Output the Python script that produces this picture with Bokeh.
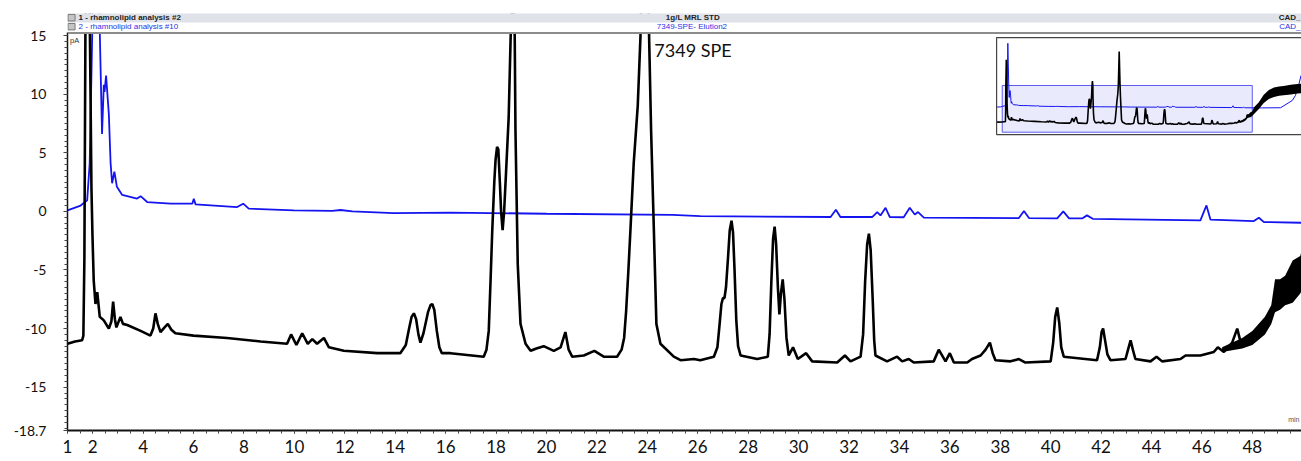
import numpy as np
from bokeh.plotting import figure
from bokeh.models import Range1d, FixedTicker, Span
from bokeh.core.properties import value
from bokeh.embed import file_html
from bokeh.resources import INLINE

# ---------------- data ----------------
x_ticks = [1, 2, 4, 6, 8, 10, 12, 14, 16, 18, 20, 22, 24, 26, 28, 30, 32, 34, 36, 38, 40, 42, 44, 46, 48]
y_ticks = [-18.7, -15, -10, -5, 0, 5, 10, 15]
y_tick_labels = ["-18.7", "-15", "-10", "-5", "0", "5", "10", "15"]

series_names = ["1 - rhamnolipid analysis #2", "2 - rhamnolipid analysis #10"]
sample_names = ["1g/L MRL STD", "7349-SPE- Elution2"]
detector_names = ["CAD_", "CAD_"]
annotation_text = "7349 SPE"

# trace 1 (black) : retention time [min], signal [pA]
black_t = [0.0, 1.0, 1.3, 1.58, 1.63, 1.67, 1.71, 1.80, 1.89, 1.95, 1.99, 2.04, 2.11, 2.18, 2.28, 2.44,
           2.64, 2.74, 2.81, 2.88, 2.94, 3.10, 3.20, 3.37, 3.9, 4.29, 4.40, 4.49, 4.58, 4.69, 4.85, 4.98,
           5.12, 5.28, 6.0, 7.33, 8.66, 9.71, 9.87, 10.08, 10.31, 10.53, 10.71, 10.9, 11.17, 11.37, 11.96,
           13.29, 14.2, 14.42, 14.55, 14.65, 14.74, 14.83, 14.92, 15.0, 15.12, 15.3, 15.4, 15.47, 15.55,
           15.65, 15.75, 15.85, 16.19, 17.51,
           17.62, 17.71, 17.78, 17.85, 17.93, 17.98, 18.04, 18.09, 18.15, 18.2, 18.26, 18.32, 18.4, 18.50,
           18.58, 18.66, 18.74, 18.77, 18.86,
           18.97, 19.17, 19.37, 19.60, 19.89, 20.29, 20.56, 20.75, 20.88, 21.02, 21.48, 21.9, 22.27, 22.8,
           22.98, 23.08, 23.16, 23.25, 23.33, 23.46, 23.62, 23.73, 23.90, 24.07, 24.15, 24.26, 24.36, 24.52,
           25.05, 25.32, 25.85, 26.1, 26.64, 26.78, 26.86, 26.94, 27.0, 27.06, 27.12, 27.2, 27.27, 27.34,
           27.40, 27.46, 27.53, 27.60, 27.70, 28.36, 28.78, 28.85, 28.92, 28.99, 29.05, 29.11, 29.18, 29.24,
           29.30, 29.37, 29.44, 29.52, 29.61, 29.78, 29.97, 30.3, 30.54, 31.53, 31.84, 32.06, 32.46,
           32.56, 32.64, 32.72, 32.79, 32.86, 32.94, 33.0, 33.05, 33.51, 33.91, 34.11, 34.37, 34.57, 35.36,
           35.56, 35.83, 36.0, 36.16, 36.69, 36.88, 37.22, 37.42, 37.59, 37.70, 37.81, 38.41, 38.74, 39.0,
           40.0, 40.1, 40.18, 40.26, 40.34, 40.42, 40.52, 41.84, 41.95, 42.02, 42.08, 42.15, 42.25, 42.37,
           42.97, 43.07, 43.17, 43.26, 43.36, 43.96, 44.2, 44.42, 45.15, 45.35, 45.94, 46.47, 46.63, 46.87,
           47.2, 47.4, 47.54, 48.06, 48.59, 48.86, 48.97, 49.25, 49.65,
           49.9, 50.3, 51.2, 52.2, 53.2, 54.2, 55.2, 56.1, 57.5, 58.75, 59.6]
black_v = [-11.4, -11.3, -11.1, -11.0, -10.6, -4.0, 15.0, 34.0, 15.0, 2.0, -2.0, -5.9, -7.9, -6.9, -9.0, -9.3,
           -10.0, -9.4, -7.7, -9.2, -9.9, -9.0, -9.6, -9.7, -10.2, -10.6, -10.0, -8.7, -9.6, -10.3, -9.9, -9.6,
           -10.1, -10.4, -10.6, -10.8, -11.1, -11.3, -10.5, -11.4, -10.4, -11.3, -10.9, -11.3, -10.8, -11.6, -11.9,
           -12.1, -12.1, -11.4, -10.0, -9.0, -8.7, -9.2, -10.5, -11.2, -10.4, -8.6, -8.0, -7.9, -8.4,
           -10.2, -11.6, -12.1, -12.1, -12.4,
           -11.8, -10.2, -6.0, -1.6, 2.5, 4.4, 5.5, 5.3, 2.5, 0.0, -1.6, 0.0, 3.5, 8.0,
           15.0, 18.6, 15.0, 6.9, -4.5,
           -9.6, -11.3, -11.9, -11.7, -11.5, -11.9, -11.6, -10.3, -11.8, -12.4, -12.3, -11.9, -12.4, -12.4,
           -11.8, -10.8, -8.5, -5.0, -1.6, 4.1, 9.0, 15.0, 40.0, 15.0, 6.9, -1.6, -9.6, -11.3,
           -12.4, -12.7, -12.6, -12.7, -12.4, -11.6, -9.8, -7.9, -7.4, -7.4, -6.5, -4.0, -1.6, -0.8,
           -1.8, -5.0, -9.3, -11.5, -12.3, -12.6, -12.4, -10.5, -6.0, -2.3, -1.3, -2.8, -6.5, -8.8,
           -7.0, -5.8, -7.5, -10.8, -12.3, -11.6, -12.6, -12.1, -12.8, -12.9, -12.3, -12.8, -12.4,
           -10.5, -6.0, -2.8, -1.9, -3.3, -7.5, -11.0, -12.3, -12.8, -12.4, -12.8, -12.6, -12.9, -12.8,
           -11.8, -12.8, -12.1, -12.9, -12.9, -12.6, -12.3, -11.8, -11.2, -12.1, -12.7, -12.8, -12.6, -12.9,
           -12.8, -11.2, -9.0, -8.2, -9.5, -11.6, -12.4, -12.7, -11.6, -10.3, -10.0, -10.9, -12.2, -12.7,
           -12.6, -11.8, -11.0, -11.8, -12.6, -12.8, -12.4, -12.8, -12.6, -12.3, -12.3, -12.0, -11.6, -12.0,
           -11.2, -10.0, -11.2, -10.4, -9.3, -8.2, -6.2, -6.7, -5.3,
           -5.0, -3.0, 0.5, 5.5, 8.8, 10.4, 11.2, 11.6, 12.3, 12.9, 13.1]

# noise envelope of trace 1 at the end of the gradient
black_band_t = [46.8, 47.6, 48.0, 48.5, 48.75, 48.9, 49.1, 49.3, 49.6, 49.9, 50.3, 51.2, 52.2, 53.2, 54.2,
                55.2, 56.1, 57.5, 58.75, 59.6]
black_band_lo = [-12.0, -11.7, -11.4, -10.5, -9.6, -8.6, -8.4, -8.0, -7.8, -7.0, -5.5, -2.0, 2.5, 5.5, 7.0,
                 7.8, 8.2, 8.8, 9.4, 9.6]
black_band_hi = [-11.6, -10.8, -10.2, -9.0, -8.0, -5.8, -5.8, -5.5, -4.2, -3.8, -0.5, 3.0, 8.5, 12.0, 13.8,
                 14.6, 15.0, 15.8, 16.4, 16.6]

# trace 2 (blue)
blue_t = [0.0, 0.67, 1.0, 1.52, 1.78, 1.88, 1.98, 2.10, 2.28, 2.37, 2.44, 2.47, 2.53, 2.64, 2.71, 2.77, 2.86,
          2.96, 3.17, 3.76, 3.9, 4.16, 5.09, 5.95, 6.01, 6.08, 7.73, 7.97, 8.19, 9.98, 11.5, 11.83, 12.3,
          13.94, 16.19, 20.0, 25.0, 26.1, 31.27, 31.48, 31.66, 32.92, 33.12, 33.25, 33.45, 33.62, 34.17,
          34.41, 34.61, 34.74, 34.97, 38.74, 38.94, 39.14, 40.26, 40.5, 40.73, 41.25, 41.44, 41.67, 45.94,
          46.18, 46.34, 48.06, 48.26, 48.46, 49.92, 52.0, 55.5, 57.8, 58.4, 59.1, 59.5]
blue_v = [-0.4, -0.3, 0.09, 0.5, 0.94, 4.1, 15.0, 46.0, 15.4, 6.6, 10.8, 10.2, 11.6, 8.3, 4.1, 2.4, 3.4,
          2.1, 1.4, 1.1, 1.3, 0.8, 0.66, 0.66, 1.08, 0.6, 0.37, 0.66, 0.23, 0.09, 0.05, 0.12, 0.0,
          -0.14, -0.1, -0.2, -0.3, -0.4, -0.48, 0.14, -0.48, -0.48, -0.06, -0.34, 0.31, -0.48, -0.5,
          0.31, -0.26, -0.06, -0.54, -0.57, 0.03, -0.57, -0.6, 0.0, -0.6, -0.6, -0.34, -0.63, -0.77,
          0.51, -0.71, -0.83, -0.54, -0.91, -0.97, -1.0, -0.9, 4.4, 8.0, 16.5, 22.6]

# displayed window of the overview (inset) rectangle
view_t = [1.0, 49.95]
view_v = [-18.7, 15.3]

# ---------------- figure ----------------
BLACK = "#000000"
BLUE = "#1414f0"
FONT = "Lato"
HDR = "Liberation Sans"

x0, x1 = 1.0, 49.95
y0, y1 = -18.7, 16.89

p = figure(width=1301, height=461, output_backend="svg", toolbar_location=None,
           x_range=Range1d(x0, x1), y_range=Range1d(y0, y1),
           min_border_left=67, min_border_right=0, min_border_top=13, min_border_bottom=31)
p.outline_line_color = None
p.background_fill_color = "white"
p.border_fill_color = "white"
p.xgrid.visible = False
p.ygrid.visible = False

# inset (overview) ranges mapped onto a sub-region of the frame
p.extra_x_ranges = {"ix": Range1d(-181.99, 59.59)}
p.extra_y_ranges = {"iy": Range1d(-235.8, 67.69)}

# axes
xa = p.xaxis[0]
xa.ticker = FixedTicker(ticks=x_ticks, minor_ticks=list(np.arange(1.0, 50.0, 0.5)))
xa.major_label_text_font = FONT
xa.major_label_text_font_size = "17px"
xa.major_label_text_color = "#111111"
xa.major_tick_out = 3
xa.major_tick_in = 0
xa.minor_tick_out = 3
xa.minor_tick_in = 0
xa.major_label_standoff = 6
xa.axis_line_width = 2
xa.axis_line_color = "#111111"
xa.major_tick_line_color = "#444444"
xa.minor_tick_line_color = "#444444"

ya = p.yaxis[0]
ya.ticker = FixedTicker(ticks=y_ticks, minor_ticks=list(np.arange(-18.5, 15.01, 0.5)))
ya.major_label_overrides = {t: s for t, s in zip(y_ticks, y_tick_labels)}
ya.bounds = (-18.7, 15.25)
ya.major_label_text_font = FONT
ya.major_label_text_font_size = "14px"
ya.major_label_text_color = "#111111"
ya.major_tick_out = 4
ya.major_tick_in = 0
ya.minor_tick_out = 3
ya.minor_tick_in = 0
ya.major_label_standoff = 17
ya.axis_line_color = "#111111"
ya.axis_line_width = 1.5
ya.major_tick_line_color = "#444444"
ya.minor_tick_line_color = "#444444"

# ---- main traces ----
p.line(blue_t, blue_v, line_color=BLUE, line_width=1.8)
p.varea(x=black_band_t, y1=black_band_lo, y2=black_band_hi, fill_color=BLACK)
p.line(black_t, black_v, line_color=BLACK, line_width=2.6)

# ---- header (covers the clipped peak tops) ----
p.quad(left=[0.9], right=[62], top=[17.5], bottom=[15.23], fill_color="white", line_color=None)
p.quad(left=[0.9], right=[62], top=[16.93], bottom=[16.13], fill_color="#dfe2e9", line_color=None)
p.quad(left=[1.02, 1.02], right=[1.30, 1.30], top=[16.81, 16.04], bottom=[16.25, 15.49],
       fill_color="#c4c4c4", line_color="#7a7a7a", line_width=1)
p.add_layout(Span(location=15.23, dimension="width", line_color="#8c8c8c", line_width=2))

p.text(x=[1.44], y=[16.51], text=[series_names[0]], text_font=value(HDR), text_font_size="8px",
       text_font_style="bold", text_color="#222222", text_align="left", text_baseline="middle")
p.text(x=[25.81], y=[16.51], text=[sample_names[0]], text_font=value(HDR), text_font_size="8px",
       text_font_style="bold", text_color="#222222", text_align="center", text_baseline="middle")
p.text(x=[49.91], y=[16.51], text=[detector_names[0]], text_font=value(HDR), text_font_size="8px",
       text_font_style="bold", text_color="#222222", text_align="right", text_baseline="middle")
p.text(x=[1.44], y=[15.74], text=[series_names[1]], text_font=value(HDR), text_font_size="8px",
       text_color="#2f2fe6", text_align="left", text_baseline="middle")
p.text(x=[25.77], y=[15.74], text=[sample_names[1]], text_font=value(HDR), text_font_size="8px",
       text_color="#2f2fe6", text_align="center", text_baseline="middle")
p.text(x=[49.91], y=[15.74], text=[detector_names[1]], text_font=value(HDR), text_font_size="8px",
       text_color="#2f2fe6", text_align="right", text_baseline="middle")

p.text(x=[1.1], y=[14.55], text=["pA"], text_font=value(HDR), text_font_size="7.5px",
       text_color="#333333", text_align="left", text_baseline="middle")
p.text(x=[49.87], y=[-17.75], text=["min"], text_font=value(HDR), text_font_size="7px",
       text_color="#555555", text_align="right", text_baseline="middle")

p.text(x=[24.28], y=[13.74], text=[annotation_text], text_font=value(FONT), text_font_size="18px",
       text_color="#111111", text_align="left", text_baseline="middle")

# ---- inset overview ----
p.quad(left=[-0.1], right=[70], top=[50.2], bottom=[-20.4], fill_color="white",
       line_color="#444444", line_width=1.2, x_range_name="ix", y_range_name="iy")
p.quad(left=[view_t[0]], right=[view_t[1]], top=[view_v[1]], bottom=[view_v[0]],
       fill_color="#e9ebfc", line_color="#5c5cf0", line_width=1, x_range_name="ix", y_range_name="iy")
p.line(blue_t, blue_v, line_color=BLUE, line_width=1.0, x_range_name="ix", y_range_name="iy")
p.varea(x=black_band_t, y1=black_band_lo, y2=black_band_hi, fill_color=BLACK,
        x_range_name="ix", y_range_name="iy")
p.line(black_t, black_v, line_color=BLACK, line_width=1.6, x_range_name="ix", y_range_name="iy")

open("out.html", "w").write(file_html(p, INLINE))
